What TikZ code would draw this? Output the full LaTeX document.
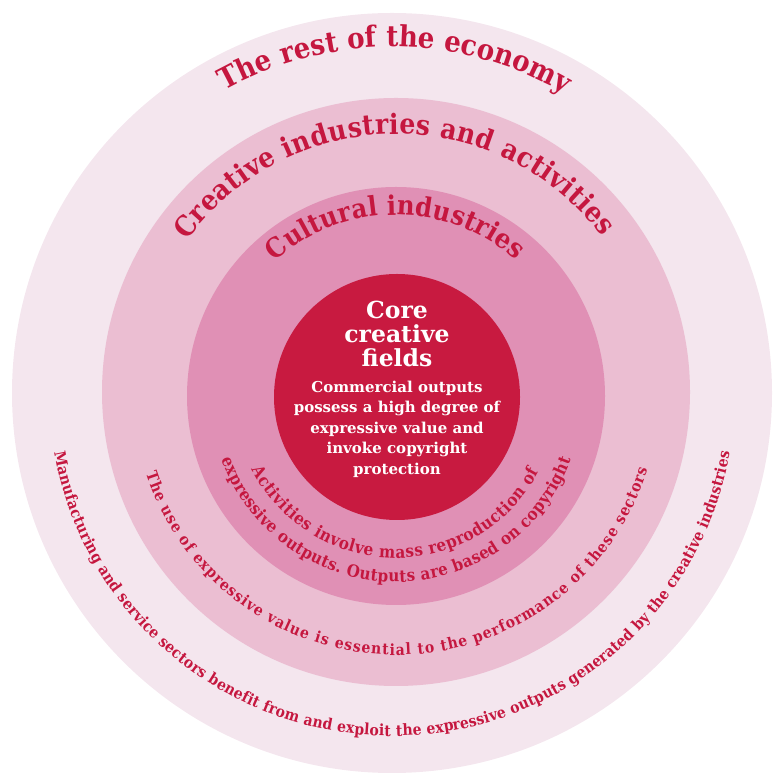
\documentclass[tikz,border=0pt]{standalone}
\usepackage{fontspec}
\usetikzlibrary{decorations.text}
\newfontfamily\slab{DejaVu Serif}
\newfontfamily\slabc{DejaVu Serif}[FakeStretch=0.9]
\definecolor{ringA}{HTML}{F4E6EE}
\definecolor{ringB}{HTML}{EBBED2}
\definecolor{ringC}{HTML}{E090B5}
\definecolor{coreC}{HTML}{C81A40}
\definecolor{textred}{HTML}{C5173F}
\tikzset{
  ringtext/.style n args={2}{decorate, decoration={text along path, text align=fit to path,
    text={|\slabc\bfseries\fontsize{#1}{#1}\selectfont\color{textred}|#2}}}
}
\begin{document}
\begin{tikzpicture}
\useasboundingbox (0pt,0pt) rectangle (773pt,778pt);
\coordinate (oc) at (392pt,385pt);
\coordinate (bc) at (396pt,386pt);
\coordinate (cc) at (396pt,382pt);
\coordinate (kc) at (397pt,381pt);
\fill[ringA] (oc) circle[radius=380pt];
\fill[ringB] (bc) circle[radius=294pt];
\fill[ringC] (cc) circle[radius=209pt];
\fill[coreC] (kc) circle[radius=123pt];
% top labels
\path[ringtext={29}{The rest of the economy}] (oc) ++(119:346pt) arc[start angle=119, end angle=60, radius=346pt];
\path[ringtext={28}{Creative industries and activities}] (bc) ++(144:258pt) arc[start angle=144, end angle=37, radius=258pt];
\path[ringtext={27}{Cultural industries}] (cc) ++(132:181pt) arc[start angle=132, end angle=48.5, radius=181pt];
% bottom descriptions
\path[ringtext={17}{Activities involve mass reproduction of}] (cc) ++(207:162pt) arc[start angle=207, end angle=332, radius=162pt];
\path[ringtext={16.8}{expressive outputs. Outputs are based on copyright}] (cc) ++(200:186pt) arc[start angle=200, end angle=340, radius=186pt];
\path[ringtext={15.5}{The use of expressive value is essential to the performance of these sectors}] (bc) ++(198:263pt) arc[start angle=198, end angle=343, radius=263pt];
\path[ringtext={15.5}{Manufacturing and service sectors benefit from and exploit the expressive outputs generated by the creative industries}] (oc) ++(190:343pt) arc[start angle=190, end angle=350, radius=343pt];
% core
\node[align=center, text=white, font={\slab\bfseries\fontsize{23.5}{24}\selectfont}] (coretitle) at (397pt,444pt) {Core\\creative\\fields};
\node[align=center, text=white, font={\slab\bfseries\fontsize{15}{20.5}\selectfont}] (coredesc) at (397pt,349pt) {Commercial outputs\\possess a high degree of\\expressive value and\\invoke copyright\\protection};
\end{tikzpicture}
\end{document}
